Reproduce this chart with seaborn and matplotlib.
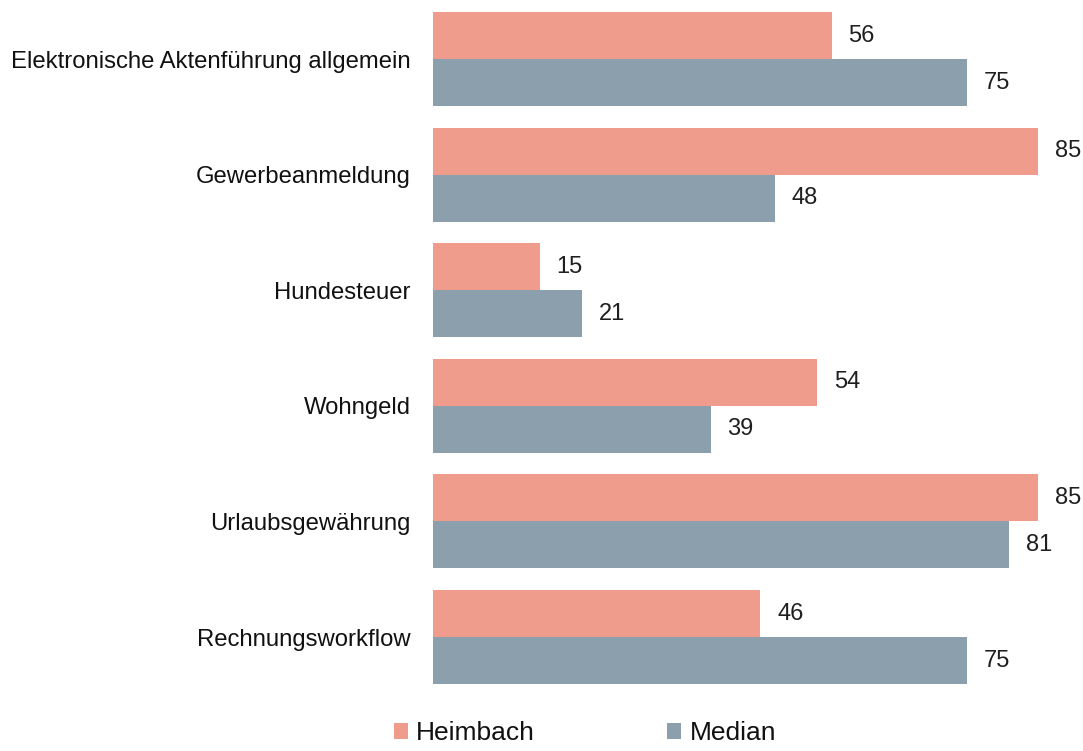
import matplotlib
matplotlib.use("Agg")
import matplotlib.pyplot as plt
import seaborn as sns
import pandas as pd
from matplotlib.patches import Patch

# Kategorien und Werte
kategorien = [
    "Elektronische Aktenführung allgemein",
    "Gewerbeanmeldung",
    "Hundesteuer",
    "Wohngeld",
    "Urlaubsgewährung",
    "Rechnungsworkflow",
]
heimbach = [56, 85, 15, 54, 85, 46]
median = [75, 48, 21, 39, 81, 75]
serien = ["Heimbach", "Median"]
farben = {"Heimbach": "#F09C8C", "Median": "#8BA0AC"}

df = pd.DataFrame({
    "Kategorie": kategorien * 2,
    "Wert": heimbach + median,
    "Serie": [serien[0]] * len(kategorien) + [serien[1]] * len(kategorien),
})

sns.set_theme(style="white")
plt.rcParams["font.family"] = ["Liberation Sans", "DejaVu Sans"]

fig = plt.figure(figsize=(10.83, 7.51), dpi=100)
ax = fig.add_axes([0.3998, 0.0892, 0.5586, 0.8948])

gruppenbreite = 0.813
sns.barplot(data=df, y="Kategorie", x="Wert", hue="Serie", order=kategorien,
            hue_order=serien, palette=farben, orient="h", width=gruppenbreite,
            gap=0, dodge=True, saturation=1, linewidth=0, ax=ax, legend=False)

for cont in ax.containers:
    ax.bar_label(cont, fmt="%d", padding=12, fontsize=17, color="#1f1f1f")

halb = gruppenbreite / 2
ax.set_ylim(len(kategorien) - 1 + halb, -halb)
ax.set_xlim(0, 85)
ax.set_xlabel("")
ax.set_ylabel("")
ax.set_xticks([])
ax.tick_params(axis="y", length=0, pad=16, labelsize=17.2, labelcolor="#111111")
for s in ax.spines.values():
    s.set_visible(False)

handles = [Patch(facecolor=farben[s], edgecolor="none", label=s) for s in serien]
fig.legend(handles=handles, loc="center", bbox_to_anchor=(0.54, 0.024), ncol=2,
           frameon=False, fontsize=19, handlelength=0.55, handleheight=0.55,
           handletextpad=0.3, columnspacing=5.0, labelcolor="#111111",
           borderpad=0.1)

fig.savefig("out.png", dpi=100)
